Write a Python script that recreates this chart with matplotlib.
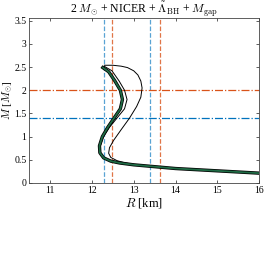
import numpy as np
import matplotlib
matplotlib.use("Agg")
import matplotlib.pyplot as plt

plt.rcParams["font.family"] = "serif"
plt.rcParams["font.serif"] = ["Liberation Serif", "DejaVu Serif"]
plt.rcParams["mathtext.fontset"] = "cm"

# mass-radius curves (R in km, M in Msun)
band_R = [12.26, 12.40, 12.55, 12.68, 12.73, 12.68, 12.53, 12.38, 12.25, 12.18,
          12.19, 12.28, 12.45, 12.66, 13.0, 13.5, 14.0, 14.5, 15.0, 15.5, 16.0]
band_M = [2.49, 2.40, 2.20, 2.00, 1.80, 1.60, 1.40, 1.20, 1.00, 0.80,
          0.65, 0.54, 0.47, 0.43, 0.39, 0.35, 0.31, 0.285, 0.26, 0.235, 0.21]

mid_R = [12.29, 12.48, 12.65, 12.78, 12.84, 12.78, 12.60, 12.42, 12.28, 12.20,
         12.20, 12.29, 12.46, 12.66]
mid_M = [2.52, 2.42, 2.20, 2.00, 1.80, 1.60, 1.40, 1.20, 1.00, 0.80,
         0.65, 0.54, 0.47, 0.43]

outer_R = [12.30, 12.50, 12.70, 12.85, 13.00, 13.10, 13.17, 13.20, 13.17, 13.07,
           12.90, 12.70, 12.52, 12.42, 12.40, 12.45, 12.60, 12.80, 13.0]
outer_M = [2.54, 2.54, 2.52, 2.49, 2.42, 2.33, 2.20, 2.05, 1.85, 1.65,
           1.40, 1.15, 0.92, 0.76, 0.64, 0.55, 0.48, 0.43, 0.40]

# constraint lines
r_blue = [12.30, 13.40]
r_orange = [12.48, 13.62]
m_orange = 2.0
m_blue = 1.4

blue = "#0072BD"
orange = "#D95319"

fig = plt.figure(figsize=(2.66, 2.62), dpi=100)
ax = fig.add_axes([0.110, 0.302, 0.864, 0.631])

ax.plot(band_R, band_M, color="k", lw=2.4, zorder=3)
ax.plot(band_R, band_M, color="#1f6b45", lw=1.3, zorder=4)
ax.plot(mid_R, mid_M, color="k", lw=0.7, zorder=3)
ax.plot(outer_R, outer_M, color="k", lw=0.7, zorder=3)

for r in r_blue:
    ax.axvline(r, color=blue, ls="--", lw=0.9, alpha=0.65, zorder=2)
for r in r_orange:
    ax.axvline(r, color=orange, ls="--", lw=0.9, alpha=0.8, zorder=2)
ax.axhline(m_orange, color=orange, ls="-.", lw=0.9, zorder=2)
ax.axhline(m_blue, color=blue, ls="-.", lw=0.9, zorder=2)

ax.set_xlim(10.5, 16)
ax.set_ylim(0, 3.57)
ax.set_xticks([11, 12, 13, 14, 15, 16])
ax.set_yticks([0, 0.5, 1, 1.5, 2, 2.5, 3, 3.5])
ax.set_yticklabels(["0", "0.5", "1", "1.5", "2", "2.5", "3", "3.5"])
ax.tick_params(direction="in", top=True, right=True, labelsize=7,
               length=2.5, width=0.6, color="#444444", pad=2)
for s in ax.spines.values():
    s.set_linewidth(0.6)
    s.set_color("#444444")

ax.set_xlabel(r"$R$ [km]", fontsize=9, labelpad=1)
ax.set_ylabel(r"$M$ [$M_{\odot}$]", fontsize=8)
ax.yaxis.set_label_coords(-0.06, 0.5)
ax.set_title(r"2 $M_{\odot}$ + NICER + $\tilde{\Lambda}_{\rm BH}$ + $M_{\rm gap}$",
             fontsize=8.5, pad=3)

fig.savefig("out.png", dpi=100)
